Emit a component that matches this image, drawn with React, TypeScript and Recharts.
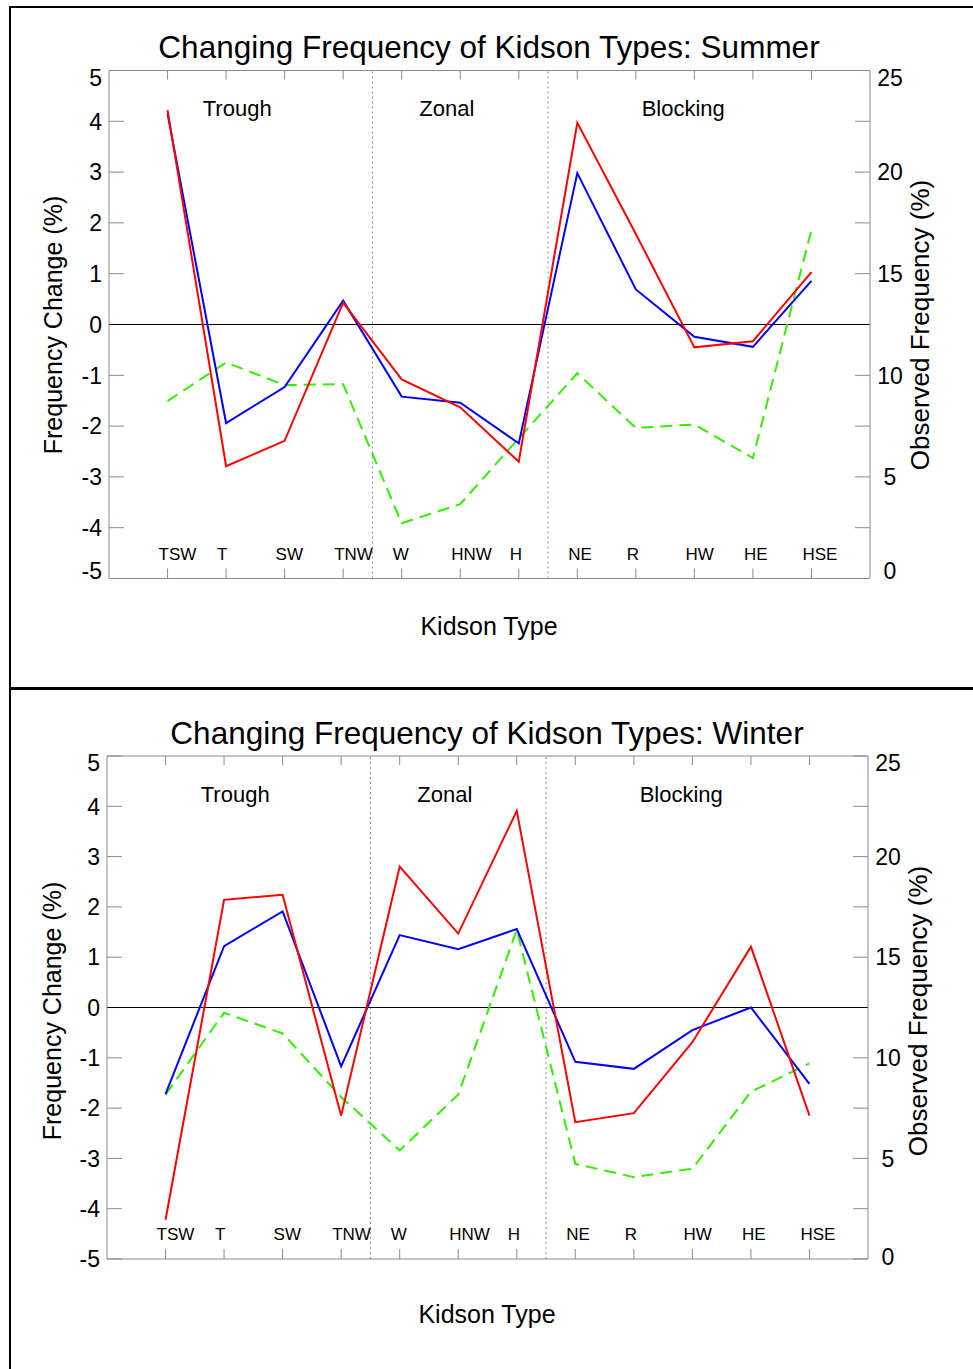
import React from "react";
import {
  LineChart,
  Line,
  XAxis,
  YAxis,
  ReferenceLine,
  ReferenceDot,
} from "recharts";

// Kidson weather types along the x axis
const kidsonTypes = ["TSW", "T", "SW", "TNW", "W", "HNW", "H", "NE", "R", "HW", "HE", "HSE"];

// frequency change (%) - left axis
const summerRed = [4.22, -2.79, -2.29, 0.43, -1.08, -1.63, -2.7, 3.97, 1.78, -0.45, -0.33, 1.03];
const summerBlue = [4.15, -1.94, -1.23, 0.47, -1.42, -1.54, -2.34, 2.98, 0.69, -0.24, -0.44, 0.86];
const winterRed = [-4.22, 2.14, 2.24, -2.15, 2.8, 1.47, 3.91, -2.28, -2.1, -0.69, 1.21, -2.15];
const winterBlue = [-1.72, 1.22, 1.91, -1.17, 1.44, 1.16, 1.56, -1.08, -1.22, -0.45, 0.0, -1.52];

// observed frequency (%) - right axis
const summerObserved = [8.73, 10.63, 9.52, 9.56, 2.72, 3.66, 6.9, 10.1, 7.41, 7.58, 5.93, 17.17];
const winterObserved = [8.17, 12.24, 11.21, 8.05, 5.4, 8.17, 16.36, 4.73, 4.07, 4.49, 8.31, 9.72];

const leftTicks = [-5, -4, -3, -2, -1, 0, 1, 2, 3, 4, 5];
const rightTicks = [0, 2.5, 5, 7.5, 10, 12.5, 15, 17.5, 20, 22.5, 25];
const rightLabels = [0, 5, 10, 15, 20, 25];

const groupNames = ["Trough", "Zonal", "Blocking"];
const groupCenters = [2.19, 5.77, 9.81];
const groupBreaks = [4.5, 7.5];

const FONT = '"Liberation Sans", Arial, Helvetica, sans-serif';
const GRAY = "#8a8a8a";
const NUM_SIZE = 23;

type PanelProps = {
  title: string;
  top: number;
  height: number;
  margin: { top: number; right: number; bottom: number; left: number };
  red: number[];
  blue: number[];
  observed: number[];
  lowShiftL: number;
  lowShiftR: number;
  titleX: number;
  titleY: number;
  leftTitleX: number;
  rightTitleX: number;
  axisTitleY: number;
  xTitleX: number;
  xTitleY: number;
};

function Panel(p: PanelProps) {
  const rows = kidsonTypes.map((name, i) => ({
    idx: i + 1,
    name,
    red: p.red[i],
    blue: p.blue[i],
    observed: p.observed[i],
  }));
  const xTicks = kidsonTypes.map((_, i) => i + 1);

  // left ticks point into the plot, labels sit outside
  const leftTick = (t: any) => {
    const v = t.payload.value;
    const shift = v === 5 ? 7 : v === -5 ? p.lowShiftL : 0;
    return (
      <g>
        {v !== 0 && <line x1={t.x} x2={t.x + 15} y1={t.y} y2={t.y} stroke={GRAY} />}
        <text x={t.x - 7} y={t.y} dy={NUM_SIZE * 0.36 + shift} textAnchor="end" fontSize={NUM_SIZE} fontFamily={FONT} fill="#000">
          {v}
        </text>
      </g>
    );
  };

  const rightTick = (t: any) => {
    const v = t.payload.value;
    const shift = v === 25 ? 7 : v === 0 ? p.lowShiftR : 0;
    return (
      <g>
        {v !== 12.5 && <line x1={t.x} x2={t.x - 15} y1={t.y} y2={t.y} stroke={GRAY} />}
        {rightLabels.includes(v) && (
          <text x={t.x + 20} y={t.y} dy={NUM_SIZE * 0.36 + shift} textAnchor="middle" fontSize={NUM_SIZE} fontFamily={FONT} fill="#000">
            {v}
          </text>
        )}
      </g>
    );
  };

  const bottomTick = (t: any) => (
    <text x={t.x - 9} y={t.y} textAnchor="start" fontSize={17} fontFamily={FONT} fill="#000">
      {kidsonTypes[t.payload.value - 1]}
    </text>
  );

  const topTick = (t: any) => <line x1={t.x} x2={t.x} y1={t.y - 9} y2={t.y} stroke={GRAY} />;

  const textStyle: React.CSSProperties = {
    position: "absolute",
    fontFamily: FONT,
    whiteSpace: "nowrap",
    lineHeight: 1,
    color: "#000",
  };

  return (
    <div style={{ position: "absolute", left: 0, top: p.top, width: 973, height: p.height }}>
      <LineChart width={973} height={p.height} data={rows} margin={p.margin}>
        <XAxis
          xAxisId="b"
          dataKey="idx"
          type="number"
          domain={[0, 13]}
          ticks={xTicks}
          interval={0}
          mirror
          height={1}
          tickSize={10}
          tickMargin={9}
          axisLine={{ stroke: GRAY }}
          tickLine={{ stroke: GRAY }}
          tick={bottomTick}
        />
        <XAxis
          xAxisId="t"
          orientation="top"
          dataKey="idx"
          type="number"
          domain={[0, 13]}
          ticks={xTicks}
          interval={0}
          mirror
          height={1}
          tickSize={9}
          tickMargin={0}
          axisLine={{ stroke: GRAY }}
          tickLine={false}
          tick={topTick}
        />
        <YAxis
          yAxisId="l"
          type="number"
          domain={[-5, 5]}
          ticks={leftTicks}
          interval={0}
          width={60}
          tickSize={0}
          tickMargin={0}
          tickLine={false}
          axisLine={{ stroke: GRAY }}
          tick={leftTick}
          allowDataOverflow
        />
        <YAxis
          yAxisId="r"
          orientation="right"
          type="number"
          domain={[0, 25]}
          ticks={rightTicks}
          interval={0}
          width={60}
          tickSize={0}
          tickMargin={0}
          tickLine={false}
          axisLine={{ stroke: GRAY }}
          tick={rightTick}
          allowDataOverflow
        />
        {groupBreaks.map((b) => (
          <ReferenceLine key={b} xAxisId="b" yAxisId="l" x={b} stroke={GRAY} strokeDasharray="2 3" />
        ))}
        <ReferenceLine xAxisId="b" yAxisId="l" y={0} stroke="#000" strokeWidth={1} />
        {groupNames.map((g, i) => (
          <ReferenceDot
            key={g}
            xAxisId="b"
            yAxisId="l"
            x={groupCenters[i]}
            y={4.25}
            r={0}
            stroke="none"
            fill="none"
            label={{ value: g, position: "center", fontSize: 22, fontFamily: FONT, fill: "#000" }}
          />
        ))}
        <Line
          xAxisId="b"
          yAxisId="r"
          dataKey="observed"
          stroke="#33ee00"
          strokeWidth={2}
          strokeDasharray="12 7"
          dot={false}
          isAnimationActive={false}
        />
        <Line xAxisId="b" yAxisId="l" dataKey="blue" stroke="#0000ff" strokeWidth={2} dot={false} isAnimationActive={false} />
        <Line xAxisId="b" yAxisId="l" dataKey="red" stroke="#ff0000" strokeWidth={2} dot={false} isAnimationActive={false} />
      </LineChart>

      <div style={{ ...textStyle, fontSize: 31.5, left: p.titleX, top: p.titleY - 16, transform: "translateX(-50%)" }}>{p.title}</div>
      <div style={{ ...textStyle, fontSize: 25, left: p.xTitleX, top: p.xTitleY - 13, transform: "translateX(-50%)" }}>Kidson Type</div>
      <div
        style={{
          ...textStyle,
          fontSize: 25,
          left: p.leftTitleX,
          top: p.axisTitleY,
          transform: "translate(-50%, -50%) rotate(-90deg)",
        }}
      >
        Frequency Change (%)
      </div>
      <div
        style={{
          ...textStyle,
          fontSize: 26,
          left: p.rightTitleX,
          top: p.axisTitleY,
          transform: "translate(-50%, -50%) rotate(-90deg)",
        }}
      >
        Observed Frequency (%)
      </div>
    </div>
  );
}

export default function App() {
  return (
    <div style={{ position: "absolute", left: 0, top: 0, width: 973, height: 1369, background: "#fff", overflow: "hidden" }}>
      <Panel
        title="Changing Frequency of Kidson Types: Summer"
        top={0}
        height={688}
        margin={{ top: 70.5, right: 43, bottom: 109.5, left: 49 }}
        red={summerRed}
        blue={summerBlue}
        observed={summerObserved}
        lowShiftL={-8}
        lowShiftR={-8}
        titleX={489}
        titleY={48}
        leftTitleX={53}
        rightTitleX={920}
        axisTitleY={325}
        xTitleX={489}
        xTitleY={627}
      />
      <Panel
        title="Changing Frequency of Kidson Types: Winter"
        top={688}
        height={681}
        margin={{ top: 68, right: 45, bottom: 110, left: 47 }}
        red={winterRed}
        blue={winterBlue}
        observed={winterObserved}
        lowShiftL={0}
        lowShiftR={-2}
        titleX={487}
        titleY={46}
        leftTitleX={52}
        rightTitleX={918}
        axisTitleY={323}
        xTitleX={487}
        xTitleY={627}
      />
      {/* outer frame */}
      <div style={{ position: "absolute", left: 9, top: 6, width: 964, height: 2, background: "#000" }} />
      <div style={{ position: "absolute", left: 9, top: 6, width: 2, height: 1363, background: "#000" }} />
      <div style={{ position: "absolute", left: 9, top: 687, width: 964, height: 2.5, background: "#000" }} />
    </div>
  );
}
